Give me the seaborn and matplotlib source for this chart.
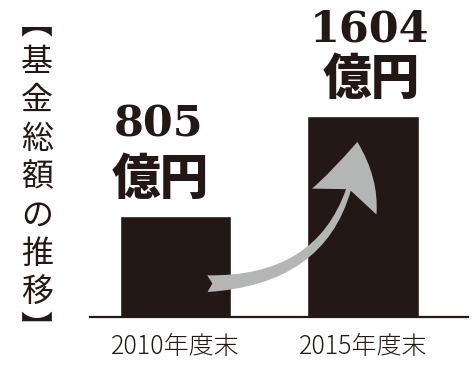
import matplotlib
matplotlib.use("Agg")
import matplotlib.pyplot as plt
import seaborn as sns
import pandas as pd
from matplotlib.patches import FancyArrowPatch

categories = ["2010年度末", "2015年度末"]
values = [805, 1604]
value_labels = ["805", "1604"]
unit_label = "億円"
title_chars = ["︻", "基", "金", "総", "額", "の", "推", "移", "︼"]

sns.set_theme(style="white")
plt.rcParams["font.family"] = ["Noto Sans CJK JP", "DejaVu Sans"]

INK = "#231815"
GRAY = "#b4b6b6"

fig = plt.figure(figsize=(4.76, 3.65), dpi=100)
ax = fig.add_axes([90 / 476, 48 / 365, 378 / 476, 317 / 365])

df = pd.DataFrame({"cat": categories, "val": values})
sns.barplot(data=df, x="cat", y="val", color=INK, saturation=1, width=0.597, ax=ax)

ax.set_ylim(0, 2526)
ax.set_xlim(-0.456, 1.56)
ax.set_xlabel("")
ax.set_ylabel("")
ax.set_yticks([])
for s in ["left", "top", "right"]:
    ax.spines[s].set_visible(False)
ax.spines["bottom"].set_color(INK)
ax.spines["bottom"].set_linewidth(1.6)
ax.tick_params(axis="x", length=0, pad=12, labelsize=18, labelcolor=INK)
for t in ax.get_xticklabels():
    t.set_fontweight("light")

# value labels
offsets = [(-12, 66, 26), (5, 62, 26)]
for i, (v, lab) in enumerate(zip(values, value_labels)):
    dx, dy_num, dy_unit = offsets[i]
    ax.annotate(lab, xy=(i, v), xytext=(dx, dy_num), textcoords="offset points",
                ha="center", va="center", fontsize=31, fontweight="bold",
                family="DejaVu Serif", color=INK)
    ax.annotate(unit_label, xy=(i, v), xytext=(dx + 1, dy_unit), textcoords="offset points",
                ha="center", va="center", fontsize=35, fontweight="heavy",
                family=["Noto Sans CJK JP", "DejaVu Sans"], color=INK)

# curved arrow from bar 1 base to bar 2 top
arrow = FancyArrowPatch((0.17, values[0] * 0.33), (0.97, values[1] * 0.87),
                        connectionstyle="arc3,rad=0.45",
                        arrowstyle="fancy,head_width=1.25,head_length=1.1,tail_width=0.3",
                        mutation_scale=40, color=GRAY, lw=0, zorder=5,
                        shrinkA=0, shrinkB=0)
ax.add_patch(arrow)

# vertical title
fig.text(37 / 476, 1 - 177 / 365, "\n".join(title_chars), ha="center", va="center",
         fontsize=23, linespacing=1.25, color=INK,
         family=["Noto Sans CJK JP", "DejaVu Sans"])

fig.savefig("out.png", dpi=100, facecolor="white")
